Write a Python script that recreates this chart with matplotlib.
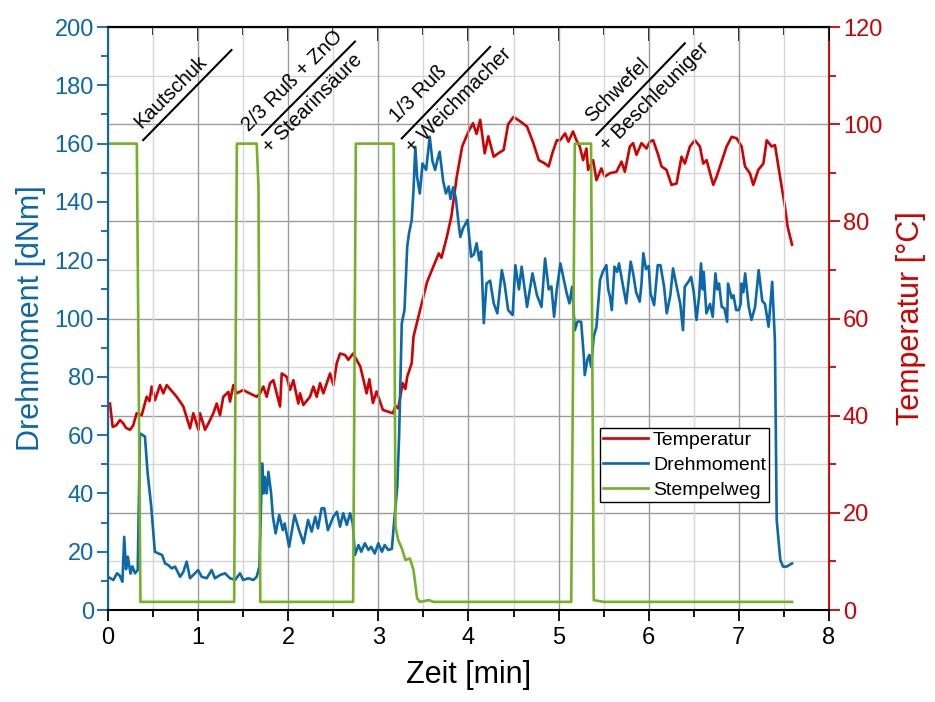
import numpy as np
import matplotlib
matplotlib.use("Agg")
import matplotlib.pyplot as plt
from matplotlib.ticker import MultipleLocator, NullFormatter

plt.rcParams['font.family'] = ['Liberation Sans', 'DejaVu Sans']

RED = '#d20000'
BLUE = '#0a68ab'
GREEN = '#74b126'

# Temperatur [°C] (rechte Achse)
t_temp = [0.022, 0.052, 0.09, 0.133, 0.170, 0.20, 0.244, 0.28, 0.318, 0.374, 0.429, 0.46, 0.485, 0.522,
          0.577, 0.614, 0.651, 0.762, 0.836, 0.910, 0.947, 1.003, 1.021, 1.077, 1.114, 1.169, 1.206,
          1.243, 1.280, 1.336, 1.354, 1.391, 1.428, 1.502, 1.539, 1.650, 1.687, 1.724, 1.761, 1.798,
          1.835, 1.872, 1.909, 1.928, 1.983, 2.020, 2.057, 2.112, 2.131, 2.168, 2.242, 2.279, 2.316,
          2.353, 2.390, 2.464, 2.501, 2.538, 2.575, 2.630, 2.667, 2.72, 2.80, 2.87, 2.90, 2.94, 2.98,
          3.05, 3.16, 3.19, 3.22, 3.27, 3.30, 3.32, 3.37, 3.39, 3.46, 3.54, 3.61, 3.67, 3.70, 3.76,
          3.81, 3.87, 3.93, 4.00, 4.05, 4.09, 4.13, 4.18, 4.22, 4.28, 4.33, 4.39, 4.44, 4.50, 4.58,
          4.65, 4.72, 4.78, 4.84, 4.89, 4.93, 4.98, 5.017, 5.072, 5.109, 5.16, 5.198, 5.235, 5.272,
          5.309, 5.327, 5.383, 5.420, 5.475, 5.512, 5.568, 5.642, 5.698, 5.735, 5.790, 5.827, 5.864,
          5.920, 5.975, 6.012, 6.049, 6.105, 6.142, 6.197, 6.253, 6.309, 6.364, 6.401, 6.457, 6.512,
          6.568, 6.605, 6.642, 6.716, 6.753, 6.827, 6.864, 6.920, 6.975, 7.031, 7.068, 7.123, 7.160,
          7.216, 7.272, 7.309, 7.364, 7.401, 7.457, 7.512, 7.54, 7.56, 7.59]
temp = [42.5, 37.7, 38.0, 39.1, 38.4, 37.5, 37.1, 38.0, 40.5, 40.1, 43.9, 43.0, 46.0, 43.2,
        46.3, 44.6, 46.3, 43.9, 41.9, 37.4, 40.5, 37.1, 40.5, 37.1, 38.4, 40.5, 42.5,
        40.1, 43.9, 44.9, 42.9, 46.3, 44.6, 45.3, 44.9, 43.9, 44.6, 46.0, 43.9, 46.7,
        47.3, 44.6, 41.9, 48.7, 48.0, 45.3, 47.3, 42.5, 44.6, 42.2, 43.9, 46.0, 43.9,
        46.7, 44.6, 48.7, 46.3, 50.8, 52.8, 52.5, 51.5, 52.8, 50.1, 44.6, 47.5, 42.6, 45.0,
        41.2, 40.5, 42.0, 41.5, 46.7, 45.5, 48.0, 50.8, 56.3, 61.5, 67.5, 70.7, 73.4, 72.5, 76.8,
        81.0, 89.2, 95.4, 98.5, 100.2, 98.0, 100.9, 94.0, 97.5, 93.3, 94.0, 94.7, 100.0, 101.5, 100.5,
        99.5, 96.1, 92.6, 92.0, 91.3, 94.0, 96.7, 96.7, 98.1, 96.4, 98.5, 96.7, 95.4, 92.6,
        95.0, 90.6, 92.6, 88.5, 90.9, 89.2, 89.9, 90.2, 92.3, 90.2, 95.4, 96.1, 93.7,
        96.1, 95.0, 96.4, 96.7, 93.7, 91.3, 90.6, 87.5, 87.8, 93.3, 91.9, 95.4, 96.7,
        95.4, 91.9, 92.6, 87.5, 89.2, 93.3, 95.4, 97.4, 97.1, 95.4, 91.3, 89.9, 87.5,
        90.6, 91.9, 96.7, 95.4, 95.7, 89.2, 83.0, 79.0, 77.5, 75.2]

# Drehmoment [dNm] (linke Achse)
t_dreh = [0.00, 0.06, 0.10, 0.13, 0.16, 0.18, 0.20, 0.22, 0.25, 0.27, 0.30, 0.33, 0.355, 0.41, 0.44,
          0.48, 0.52, 0.56, 0.60, 0.633, 0.67, 0.707, 0.744, 0.80, 0.836, 0.873, 0.91, 0.965, 1.00,
          1.04, 1.095, 1.15, 1.187, 1.243, 1.298, 1.354, 1.41, 1.465, 1.50, 1.557, 1.613, 1.65, 1.68,
          1.71, 1.725, 1.74, 1.76, 1.78, 1.81, 1.83, 1.86, 1.90, 1.94, 1.96, 2.01, 2.07, 2.12, 2.17,
          2.22, 2.26, 2.30, 2.33, 2.37, 2.40, 2.44, 2.50, 2.54, 2.575, 2.61, 2.65, 2.686, 2.716, 2.74,
          2.78, 2.81, 2.85, 2.89, 2.92, 2.96, 3.00, 3.04, 3.07, 3.11, 3.15, 3.17, 3.21, 3.23, 3.26,
          3.29, 3.32, 3.34, 3.37, 3.39, 3.41, 3.43, 3.46, 3.49, 3.53, 3.57, 3.60, 3.63, 3.66, 3.68,
          3.72, 3.75, 3.78, 3.80, 3.83, 3.86, 3.89, 3.91, 3.94, 3.99, 4.03, 4.06, 4.09, 4.12, 4.14,
          4.17, 4.20, 4.24, 4.28, 4.32, 4.37, 4.40, 4.44, 4.49, 4.52, 4.56, 4.59, 4.65, 4.71, 4.76,
          4.81, 4.85, 4.89, 4.92, 4.95, 4.98, 5.02, 5.06, 5.09, 5.12, 5.15, 5.18, 5.21, 5.25, 5.28,
          5.29, 5.32, 5.34, 5.36, 5.39, 5.42, 5.46, 5.49, 5.53, 5.55, 5.57, 5.59, 5.62, 5.65, 5.67,
          5.71, 5.75, 5.80, 5.83, 5.86, 5.90, 5.92, 5.94, 5.97, 6.00, 6.02, 6.06, 6.10, 6.13, 6.17,
          6.20, 6.24, 6.27, 6.31, 6.35, 6.38, 6.40, 6.44, 6.47, 6.50, 6.53, 6.56, 6.58, 6.60, 6.61,
          6.64, 6.68, 6.71, 6.74, 6.76, 6.78, 6.81, 6.84, 6.87, 6.88, 6.92, 6.94, 6.97, 7.00, 7.02,
          7.03, 7.05, 7.07, 7.11, 7.14, 7.18, 7.22, 7.26, 7.29, 7.33, 7.37, 7.40, 7.42, 7.46, 7.49,
          7.53, 7.59]
dreh = [11.4, 10.3, 12.6, 11.8, 9.7, 25.1, 14.0, 18.3, 12.5, 15.0, 12.6, 13.7, 60.6, 59.5, 46.9,
        35.4, 20.0, 19.4, 18.9, 16.0, 15.4, 14.3, 14.9, 11.4, 13.1, 16.6, 10.9, 12.6, 13.7,
        11.4, 10.9, 13.7, 10.9, 12.0, 12.6, 10.9, 10.3, 12.6, 10.3, 10.9, 10.3, 11.4, 14.9,
        50.3, 40.0, 45.7, 40.0, 47.4, 40.0, 32.0, 26.3, 32.6, 27.4, 29.7, 21.7, 32.6, 27.4, 22.9,
        30.9, 26.9, 32.0, 28.0, 34.9, 34.9, 27.4, 32.0, 33.7, 28.6, 33.2, 29.2, 33.2, 29.7, 18.9,
        22.3, 20.0, 22.9, 20.6, 21.7, 19.4, 22.9, 20.0, 22.3, 20.6, 21.0, 28.6, 42.3, 59.5, 98.4,
        102.9, 124.6, 129.2, 133.8, 144.0, 158.9, 148.6, 142.9, 153.2, 151.0, 162.4, 154.0, 151.0, 155.0, 157.2,
        147.0, 142.9, 145.3, 141.0, 145.0, 141.2, 132.7, 128.0, 131.0, 133.8, 121.2, 122.0, 125.8, 120.0, 123.0,
        98.4, 112.0, 113.0, 105.2, 101.8, 116.6, 112.0, 102.9, 101.2, 118.3, 110.0, 117.8, 104.0, 115.5, 108.0,
        104.0, 120.6, 110.0, 111.0, 100.6, 110.0, 118.9, 113.0, 108.6, 105.2, 110.9, 96.0, 99.0, 98.9, 86.9,
        80.6, 86.0, 87.5, 83.5, 93.8, 97.2, 113.2, 116.0, 118.3, 110.0, 107.5, 102.9, 117.8, 116.0, 118.9,
        112.0, 105.2, 119.5, 115.0, 109.0, 105.8, 112.0, 122.4, 117.0, 118.0, 108.6, 104.6, 118.3, 118.3, 111.0,
        101.8, 108.0, 117.2, 111.0, 105.0, 96.0, 110.9, 112.6, 114.3, 109.0, 99.5, 108.0, 118.9, 110.0, 116.0,
        101.8, 105.0, 100.6, 115.5, 110.0, 112.0, 104.0, 103.5, 98.9, 112.0, 107.0, 108.0, 102.9, 102.9, 105.0,
        112.0, 109.0, 115.5, 104.0, 99.5, 104.0, 116.6, 106.0, 105.0, 97.2, 112.6, 92.6, 30.9, 17.2, 14.9,
        14.9, 16.0]

# Stempelweg (auf der linken Achse)
t_stempel = [0.00, 0.32, 0.36, 1.40, 1.43, 1.65, 1.67, 1.69, 2.72, 2.75, 3.17, 3.19, 3.22, 3.26,
             3.30, 3.35, 3.39, 3.43, 3.46, 3.56, 3.61, 5.14, 5.18, 5.36, 5.39, 5.50, 7.59]
stempel = [160, 160, 2.8, 2.8, 160, 160, 145, 2.8, 2.8, 160, 160, 28.6, 24.0, 21.2,
           17.2, 17.7, 13.7, 4.0, 2.8, 3.4, 2.8, 2.8, 160, 160, 3.4, 2.8, 2.8]

# Beschriftungen der Zugaben
schritt_linien = [(0.39, 161.2, 1.37, 192.1), (1.71, 163.0, 2.74, 195.0),
                  (3.26, 161.8, 4.24, 193.2), (5.42, 163.0, 6.40, 194.4)]
schritt_texte = [('Kautschuk', 0.37, 165.0),
                 ('2/3 Ruß + ZnO', 1.57, 164.0), ('+ Stearinsäure', 1.80, 156.5),
                 ('1/3 Ruß', 3.21, 167.0), ('+ Weichmacher', 3.38, 156.5),
                 ('Schwefel', 5.37, 167.0), ('+ Beschleuniger', 5.54, 157.0)]

fig = plt.figure(figsize=(9.35, 7.02), dpi=100)
ax = fig.add_axes([0.1155, 0.131, 0.7711, 0.8305])
ax2 = ax.twinx()
ax.set_zorder(ax2.get_zorder() + 1)
ax.patch.set_visible(False)

l_t, = ax2.plot(t_temp, temp, color=RED, lw=1.9, label='Temperatur')
l_d, = ax.plot(t_dreh, dreh, color=BLUE, lw=1.9, label='Drehmoment')
l_s, = ax.plot(t_stempel, stempel, color=GREEN, lw=1.9, label='Stempelweg')

ax.set_xlim(0, 8)
ax.set_ylim(0, 200)
ax2.set_ylim(0, 120)

ax.xaxis.set_major_locator(MultipleLocator(1))
ax.xaxis.set_minor_locator(MultipleLocator(0.5))
ax.yaxis.set_major_locator(MultipleLocator(20))
ax.yaxis.set_minor_locator(MultipleLocator(10))
ax2.yaxis.set_major_locator(MultipleLocator(20))
ax2.yaxis.set_minor_locator(MultipleLocator(10))

# grid
ax2.grid(which='major', axis='y', color='#9c9c9c', lw=1.0)
ax2.grid(which='minor', axis='y', color='#d6d6d6', lw=1.0)
ax.grid(which='major', axis='x', color='#9c9c9c', lw=1.0)
ax.grid(which='minor', axis='x', color='#d6d6d6', lw=1.0)

# spines
ax.spines['right'].set_visible(False)
ax2.spines['left'].set_visible(False)
ax2.spines['top'].set_visible(False)
ax2.spines['bottom'].set_visible(False)
ax.spines['left'].set_color(BLUE)
ax2.spines['right'].set_color(RED)
for s in ['left', 'top', 'bottom']:
    ax.spines[s].set_linewidth(1.5)
ax2.spines['right'].set_linewidth(1.5)

ax.tick_params(axis='x', which='major', direction='out', length=8, width=1.3, labelsize=17, pad=4)
ax.tick_params(axis='x', which='minor', direction='out', length=5, width=1.3)
ax.tick_params(axis='y', which='major', direction='out', length=8, width=1.3, colors=BLUE, labelsize=17, pad=2)
ax.tick_params(axis='y', which='minor', direction='out', length=5, width=1.3, colors=BLUE)
ax2.tick_params(axis='y', which='major', direction='out', length=8, width=1.3, colors=RED, labelsize=17, pad=2)
ax2.tick_params(axis='y', which='minor', direction='out', length=5, width=1.3, colors=RED)

sec = ax.secondary_xaxis('top')
sec.xaxis.set_major_locator(MultipleLocator(1))
sec.xaxis.set_minor_locator(MultipleLocator(0.5))
sec.xaxis.set_major_formatter(NullFormatter())
sec.tick_params(which='major', direction='in', length=10, width=1.3)
sec.tick_params(which='minor', direction='in', length=6, width=1.3)
sec.spines['top'].set_linewidth(1.5)

ax.set_xlabel('Zeit [min]', fontsize=22, labelpad=8)
ax.set_ylabel('Drehmoment [dNm]', fontsize=22, color=BLUE, labelpad=6)
ax2.set_ylabel('Temperatur [°C]', fontsize=22, color=RED, labelpad=10)

for x0, y0, x1, y1 in schritt_linien:
    ax.plot([x0, x1], [y0, y1], color='black', lw=1.5)
for txt, x0, y0 in schritt_texte:
    ax.text(x0, y0, txt, rotation=45, rotation_mode='anchor', ha='left', va='baseline',
            fontsize=14.5, color='black')

leg = ax.legend(handles=[l_t, l_d, l_s], loc='upper left', bbox_to_anchor=(0.683, 0.312),
                fontsize=14, frameon=True, fancybox=False, edgecolor='black', framealpha=1,
                handlelength=2.3, borderpad=0.15, labelspacing=0.38, handletextpad=0.25,
                borderaxespad=0)
leg.get_frame().set_linewidth(1.0)

fig.savefig('out.png', dpi=100)
